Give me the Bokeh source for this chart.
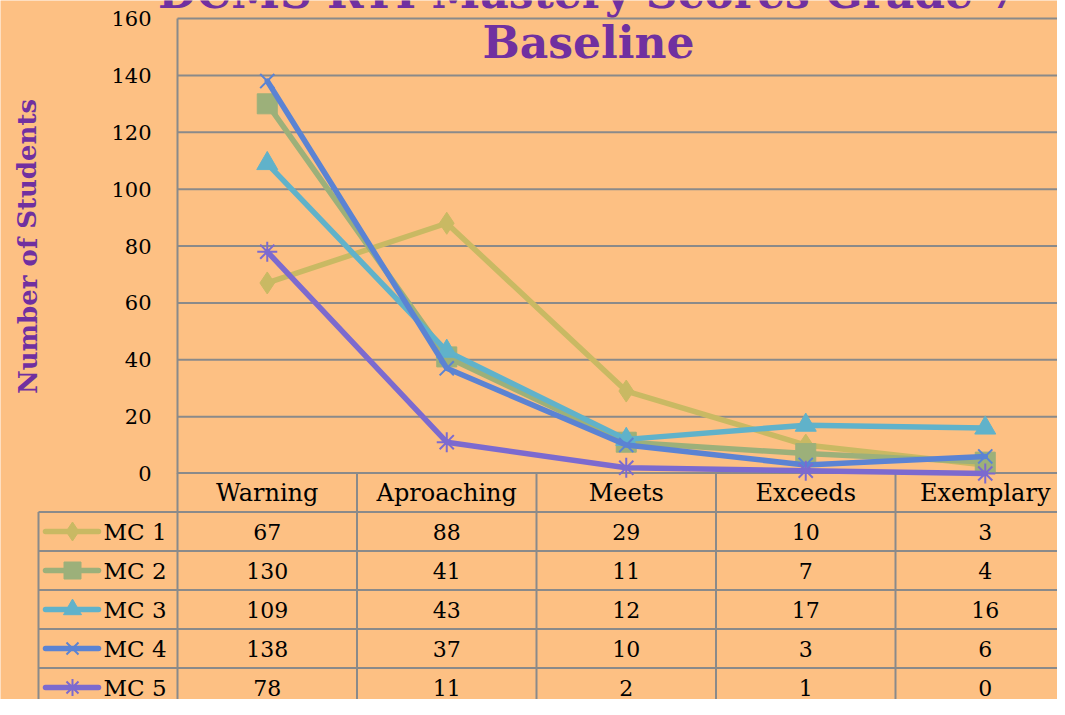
from bokeh.plotting import figure
from bokeh.models import Range1d
from bokeh.core.properties import value
from bokeh.embed import file_html
from bokeh.resources import INLINE

# ---------------- data ----------------
categories = ["Warning", "Aproaching", "Meets", "Exceeds", "Exemplary"]
series_names = ["MC 1", "MC 2", "MC 3", "MC 4", "MC 5"]
mc1 = [67, 88, 29, 10, 3]
mc2 = [130, 41, 11, 7, 4]
mc3 = [109, 43, 12, 17, 16]
mc4 = [138, 37, 10, 3, 6]
mc5 = [78, 11, 2, 1, 0]
y_ticks = [0, 20, 40, 60, 80, 100, 120, 140, 160]
title_lines = ["DCMS RTI Mastery Scores Grade 7", "Baseline"]
y_title = "Number of Students"

# ---------------- styles ----------------
series = [mc1, mc2, mc3, mc4, mc5]
colors = ["#C9B963", "#9CB07A", "#60B2CA", "#5B83D3", "#7C6ACF"]
markers = ["diamond", "square", "triangle", "x", "asterisk"]
marker_sizes = [22, 20, 21, 20, 20]
leg_marker_sizes = [19, 17, 18, 17, 17]
BG = "#FDC083"
PURPLE = "#7030A0"
GRID = "#8A8A8A"
SERIF = value("DejaVu Serif")

# ---------------- layout (pixels) ----------------
W, H = 1057, 699
PLOT_L, COL_W = 177.0, 179.5
Y0, Y_PX = 473.0, 455.0 / 160.0
ROW0, ROW_H = 472.5, 39.0
LEG_L = 38.0

n = len(categories)
idx = list(range(n))

p = figure(width=W, height=H,
           x_range=Range1d((0 - PLOT_L) / COL_W - 0.5, (W - PLOT_L) / COL_W - 0.5),
           y_range=Range1d((Y0 - H) / Y_PX, Y0 / Y_PX),
           output_backend="svg", toolbar_location=None,
           x_axis_location=None, y_axis_location=None,
           min_border=0, background_fill_color=BG, border_fill_color=BG,
           outline_line_color=None)
p.grid.visible = False
p.extra_x_ranges = {"px": Range1d(0, W)}
p.extra_y_ranges = {"px": Range1d(H, 0),
                    "table": Range1d((H - ROW0) / ROW_H, (0 - ROW0) / ROW_H)}

x_left = -0.5
x_right = n - 0.5 + 0.2
leg_left_x = (LEG_L - PLOT_L) / COL_W - 0.5
n_rows = len(series) + 1

# horizontal gridlines (value axis)
grid_vals = [t for t in y_ticks if t > 0]
p.segment(x0=[x_left] * len(grid_vals), x1=[x_right] * len(grid_vals),
          y0=grid_vals, y1=grid_vals, line_color=GRID, line_width=2)
p.segment(x0=[x_left], x1=[x_left], y0=[0], y1=[y_ticks[-1]], line_color=GRID, line_width=2)

# table lines
p.segment(x0=[x_left], x1=[x_right], y0=[0], y1=[0], y_range_name="table",
          line_color=GRID, line_width=2)
rows = list(range(1, n_rows + 1))
p.segment(x0=[leg_left_x] * len(rows), x1=[x_right] * len(rows), y0=rows, y1=rows,
          y_range_name="table", line_color=GRID, line_width=2)
vx = [i - 0.5 for i in range(n + 1)]
p.segment(x0=vx, x1=vx, y0=[0] * len(vx), y1=[n_rows] * len(vx),
          y_range_name="table", line_color=GRID, line_width=2)
p.segment(x0=[leg_left_x], x1=[leg_left_x], y0=[1], y1=[n_rows],
          y_range_name="table", line_color=GRID, line_width=2)

# y tick labels
tick_x = (151 - PLOT_L) / COL_W - 0.5
p.text(x=[tick_x] * len(y_ticks), y=y_ticks, text=[str(t) for t in y_ticks],
       text_font=SERIF, text_font_size="21px", text_color="black",
       text_align="right", text_baseline="middle")

# series lines + markers
for vals, col, mk, ms in zip(series, colors, markers, marker_sizes):
    p.line(x=idx, y=vals, line_color=col, line_width=5.5, line_join="round", line_cap="round")
    if mk in ("x", "asterisk"):
        p.scatter(x=idx, y=vals, marker=mk, size=ms, line_color=col, line_width=2)
    else:
        p.scatter(x=idx, y=vals, marker=mk, size=ms, fill_color=col, line_color=col)

# table header
p.text(x=idx, y=[0.5] * n, y_range_name="table", text=categories,
       text_font=SERIF, text_font_size="24px", text_color="black",
       text_align="center", text_baseline="middle")

# table body + legend keys
for r, (name, vals, col, mk, ms) in enumerate(zip(series_names, series, colors, markers, leg_marker_sizes), start=1):
    yc = r + 0.5
    p.text(x=idx, y=[yc] * n, y_range_name="table", text=[str(v) for v in vals],
           text_font=SERIF, text_font_size="22px", text_color="black",
           text_align="center", text_baseline="middle")
    ypx = ROW0 + ROW_H * yc
    p.segment(x0=[45], x1=[98], y0=[ypx], y1=[ypx], x_range_name="px", y_range_name="px",
              line_color=col, line_width=5.5, line_cap="round")
    if mk in ("x", "asterisk"):
        p.scatter(x=[72], y=[ypx], x_range_name="px", y_range_name="px",
                  marker=mk, size=ms, line_color=col, line_width=2)
    else:
        p.scatter(x=[72], y=[ypx], x_range_name="px", y_range_name="px",
                  marker=mk, size=ms, fill_color=col, line_color=col)
    p.text(x=[103], y=[ypx], x_range_name="px", y_range_name="px", text=[name],
           text_font=SERIF, text_font_size="23px", text_color="black",
           text_align="left", text_baseline="middle")

# titles
p.text(x=[588, 588], y=[-8, 42], x_range_name="px", y_range_name="px", text=title_lines,
       text_font=SERIF, text_font_style="bold", text_font_size="44px", text_color=PURPLE,
       text_align="center", text_baseline="middle")
p.text(x=[27], y=[246], x_range_name="px", y_range_name="px", text=[y_title], angle=1.5708,
       text_font=SERIF, text_font_style="bold", text_font_size="26px", text_color=PURPLE,
       text_align="center", text_baseline="middle")

open("out.html", "w").write(file_html(p, INLINE))
